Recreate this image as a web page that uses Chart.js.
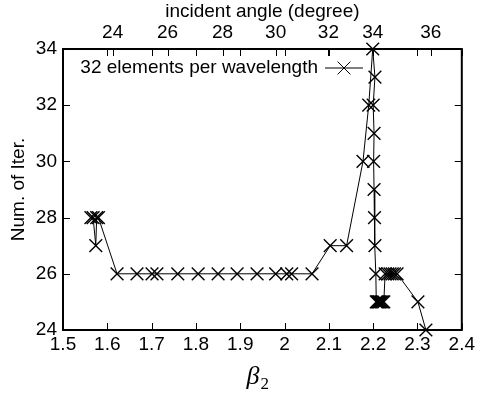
<!DOCTYPE html>
<html>
<head>
<meta charset="utf-8">
<script src="https://cdn.jsdelivr.net/npm/chart.js@4"></script>
<style>
  body { margin: 0; background: #fff; }
  #wrap { width: 478px; height: 394px; }
</style>
</head>
<body>
<div id="wrap"><canvas id="myChart" width="478" height="394"></canvas></div>
<script>
// series, in the order the line joins them
const beta2 = [1.563, 1.568, 1.574, 1.576, 1.580,
  1.622, 1.667, 1.701, 1.712, 1.759, 1.805, 1.850, 1.893, 1.938, 1.980, 2.005, 2.016, 2.062,
  2.103, 2.140, 2.177, 2.190, 2.199, 2.204, 2.200, 2.202, 2.201, 2.202, 2.203, 2.204, 2.206,
  2.207, 2.209, 2.211, 2.213, 2.215, 2.218, 2.221, 2.224, 2.227, 2.233, 2.238, 2.243, 2.248, 2.254,
  2.301, 2.319];
const iters = [28, 28, 27, 28, 28,
  26, 26, 26, 26, 26, 26, 26, 26, 26, 26, 26, 26, 26,
  27, 27, 30, 32, 34, 33, 32, 31, 30, 29, 28, 27, 26,
  25, 25, 25, 25, 25, 25, 25, 25, 26, 26, 26, 26, 26, 26,
  25, 24];
const seriesName = '32 elements per wavelength';

// top axis: incident angle labels and where they sit on the beta2 scale
const angleLabels = ['24', '26', '28', '30', '32', '34', '36'];
const angleAt = [1.612, 1.736, 1.860, 1.980, 2.099, 2.199, 2.330];

const FONT = 'Liberation Sans, Arial, Helvetica, sans-serif';

const frame = {
  id: 'frame',
  beforeDatasetsDraw(chart) {
    const c = chart.ctx, a = chart.chartArea, s = chart.scales;
    c.save();
    c.strokeStyle = '#000';
    c.lineWidth = 1;
    c.beginPath();
    s.x.ticks.forEach(t => {
      const px = Math.round(s.x.getPixelForValue(t.value)) + 0.5;
      c.moveTo(px, a.bottom); c.lineTo(px, a.bottom - 7);
      c.moveTo(px, a.top); c.lineTo(px, a.top + 7);
    });
    s.x2.ticks.forEach(t => {
      const px = Math.round(s.x2.getPixelForValue(t.value)) + 0.5;
      c.moveTo(px, a.top); c.lineTo(px, a.top + 7);
    });
    s.y.ticks.forEach(t => {
      const py = Math.round(s.y.getPixelForValue(t.value)) + 0.5;
      c.moveTo(a.left, py); c.lineTo(a.left + 7, py);
      c.moveTo(a.right, py); c.lineTo(a.right - 7, py);
    });
    c.stroke();
    c.lineWidth = 2;
    c.strokeRect(a.left, a.top, a.right - a.left, a.bottom - a.top);
    c.restore();
  },
  afterDraw(chart) {
    const c = chart.ctx, a = chart.chartArea;
    c.save();
    // key, gnuplot style
    const ky = a.top + 19;
    c.fillStyle = '#000';
    c.font = '19px ' + FONT;
    c.textAlign = 'right';
    c.textBaseline = 'middle';
    c.fillText(seriesName, a.left + 255, ky);
    c.strokeStyle = '#000';
    c.lineWidth = 1;
    c.beginPath();
    c.moveTo(a.left + 262, ky); c.lineTo(a.left + 300, ky);
    const mx = a.left + 281, r = 6.4;
    c.moveTo(mx - r, ky - r); c.lineTo(mx + r, ky + r);
    c.moveTo(mx - r, ky + r); c.lineTo(mx + r, ky - r);
    c.stroke();
    // bottom axis title: beta_2
    const cx = (a.left + a.right) / 2 - 3;
    c.textAlign = 'left';
    c.textBaseline = 'alphabetic';
    c.font = 'italic 26px "Liberation Serif", serif';
    const bw = c.measureText('β').width;
    c.fillText('β', cx - bw, 384);
    c.font = '17px "Liberation Serif", serif';
    c.fillText('2', cx + 1, 389);
    c.restore();
  }
};

new Chart(document.getElementById('myChart'), {
  type: 'line',
  data: {
    datasets: [{
      label: seriesName,
      data: beta2.map((b, i) => ({ x: b, y: iters[i] })),
      borderColor: '#000',
      borderWidth: 1,
      tension: 0,
      fill: false,
      clip: false,
      pointStyle: 'crossRot',
      pointRadius: 9,
      pointHoverRadius: 9,
      pointBorderWidth: 1.4,
      pointBorderColor: '#000',
      pointBackgroundColor: '#000'
    }]
  },
  options: {
    responsive: false,
    animation: false,
    devicePixelRatio: 1,
    layout: { padding: { left: 0, right: 16, top: 0, bottom: 0 } },
    plugins: { legend: { display: false }, tooltip: { enabled: false } },
    scales: {
      x: {
        type: 'linear', position: 'bottom', min: 1.5, max: 2.4,
        grid: { display: false, drawTicks: false },
        border: { display: false },
        ticks: {
          stepSize: 0.1, padding: 3, color: '#000', maxRotation: 0,
          font: { family: FONT, size: 19 },
          callback: v => String(Number(v.toFixed(1)))
        },
        afterFit: s => { s.height = 64; }
      },
      x2: {
        type: 'linear', position: 'top', min: 1.5, max: 2.4,
        grid: { display: false, drawTicks: false },
        border: { display: false },
        afterBuildTicks: s => { s.ticks = angleAt.map(v => ({ value: v })); },
        ticks: {
          padding: 5, color: '#000', autoSkip: false, maxRotation: 0,
          font: { family: FONT, size: 19 },
          callback: (v, i) => angleLabels[i]
        },
        title: {
          display: true, text: 'incident angle (degree)', color: '#000',
          font: { family: FONT, size: 19 }, padding: { top: 0, bottom: 0 }
        },
        afterFit: s => { s.height = 49; }
      },
      y: {
        type: 'linear', min: 24, max: 34,
        grid: { display: false, drawTicks: false },
        border: { display: false },
        ticks: {
          stepSize: 2, padding: 6, color: '#000',
          font: { family: FONT, size: 19 }
        },
        title: {
          display: true, text: 'Num. of Iter.', color: '#000',
          font: { family: FONT, size: 19 }, padding: { top: 7, bottom: 0 }
        },
        afterFit: s => { s.width = 63; }
      }
    }
  },
  plugins: [frame]
});
</script>
</body>
</html>
